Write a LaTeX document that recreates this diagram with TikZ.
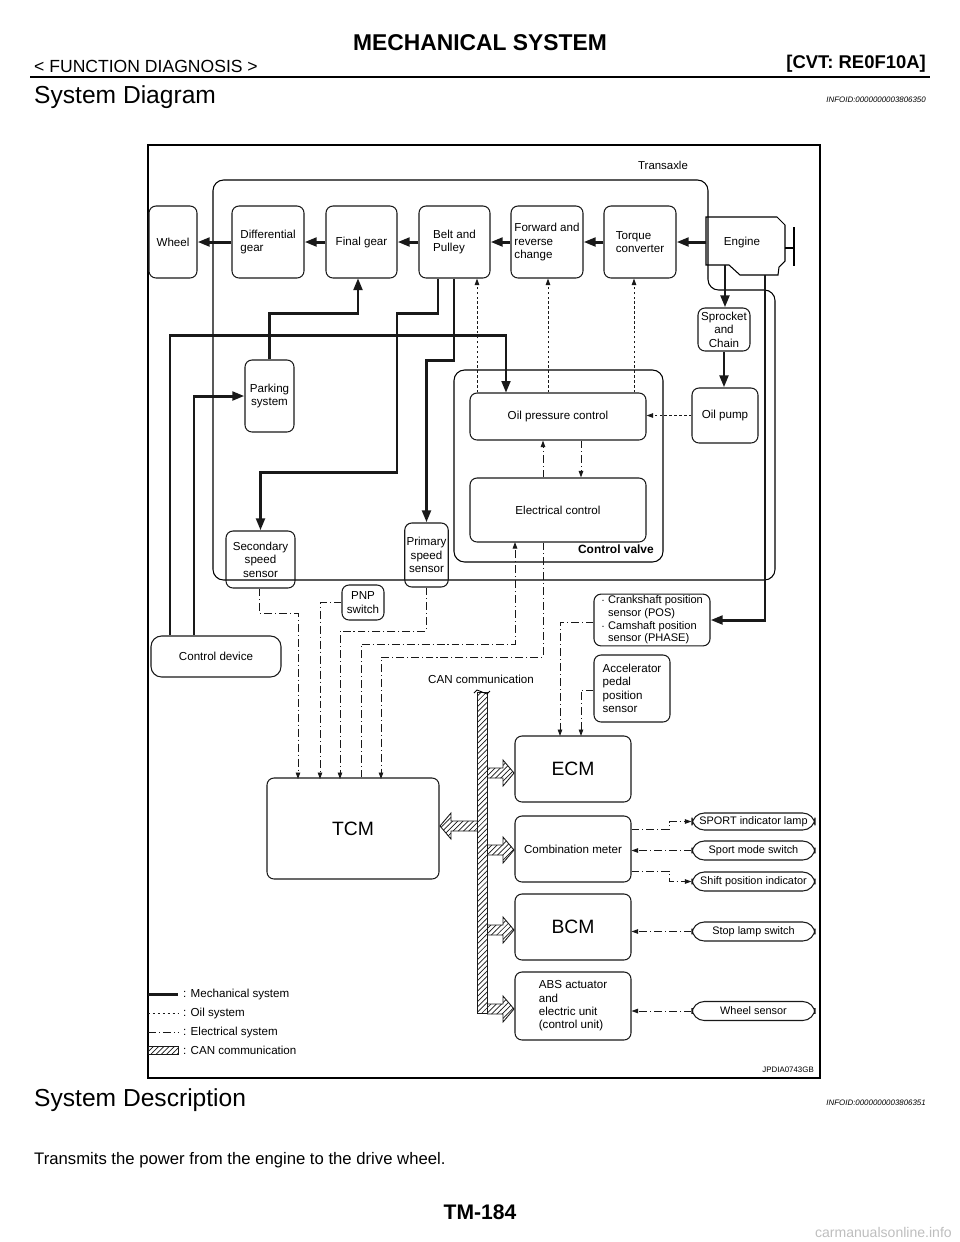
\documentclass[tikz,border=0pt]{standalone}
\usepackage{fontspec}
\setmainfont{Liberation Sans}
\usetikzlibrary{arrows.meta, patterns}
\definecolor{linedark}{RGB}{25, 25, 25}
\definecolor{markgray}{RGB}{190, 190, 190}

\begin{document}
\begin{tikzpicture}[
    x=0.02cm, y=-0.02cm,
    unit/.style 2 args={minimum width=#1*0.02cm, minimum height=#2*0.02cm},
    part/.style={rectangle, draw=linedark, rounded corners=4pt, line width=0.6pt, inner sep=1pt, font=\fontsize{6.6}{7.6}\selectfont, align=center},
    tag/.style={part, rounded corners=7pt, font=\fontsize{6.2}{7}\selectfont},
    mech/.style={line width=1.7pt, color=linedark},
    mecha/.style={mech, -{Triangle[length=2.4mm, width=1.7mm]}},
    oil/.style={line width=0.5pt, dash pattern=on 1.4pt off 1.4pt, color=linedark},
    oila/.style={oil, -{Triangle[length=1.3mm, width=0.9mm]}},
    elec/.style={line width=0.5pt, dash pattern=on 4.5pt off 1.7pt on 0.6pt off 1.7pt, color=linedark},
    eleca/.style={elec, -{Triangle[length=1.3mm, width=0.9mm]}},
    can/.style={draw=linedark, line width=0.5pt, pattern=north east lines, pattern color=linedark},
]
\useasboundingbox (0,0) rectangle (960,1242);

% Page header
\node[font=\bfseries\fontsize{13}{14}\selectfont] (title) at (480,43) {MECHANICAL SYSTEM};
\node[anchor=west, font=\fontsize{10}{12}\selectfont] (section) at (28,66) {< FUNCTION DIAGNOSIS >};
\node[anchor=east, font=\bfseries\fontsize{10.5}{12}\selectfont] (model) at (932,64) {[CVT: RE0F10A]};
\draw[line width=1.3pt] (30,77) -- (930,77);
\node[anchor=west, font=\fontsize{14}{16}\selectfont] (head1) at (28,97) {System Diagram};
\node[anchor=east, font=\itshape\fontsize{4.5}{5}\selectfont] (info1) at (932,100) {INFOID:0000000003806350};

% Frame and housings
\draw[line width=0.8pt] (148,145) rectangle (820,1078);
\node[anchor=south, font=\fontsize{6.5}{7}\selectfont] (transaxle) at (663,176) {Transaxle};
\draw[line width=0.6pt, rounded corners=6pt] (708,290) -- (708,180) -- (213,180) -- (213,580) -- (775,580) -- (775,290) -- cycle;
\draw[line width=0.6pt, rounded corners=6pt] (454,370) rectangle (663,562);
\node[anchor=south east, font=\bfseries\fontsize{6.8}{8}\selectfont] (cvlabel) at (660,560) {Control valve};

% Power train
\node[part, unit={48}{72}] (wheel) at (173,242) {Wheel};
\node[part, unit={72}{72}, align=left] (diff) at (268,242) {Differential\\gear};
\node[part, unit={71}{72}] (final) at (361.5,242) {Final gear};
\node[part, unit={71}{72}, align=left] (belt) at (454.5,242) {Belt and\\Pulley};
\node[part, unit={72}{72}, align=left] (fwd) at (547,242) {Forward and\\reverse\\change};
\node[part, unit={72}{72}, align=left] (torque) at (640,242) {Torque\\converter};

% Engine
\draw[line width=0.6pt] (706,217) -- (777,217) -- (785,225) -- (785,261) -- (779,267) -- (778,275) -- (740,275) -- (729,265) -- (706,265) -- cycle;
\draw[line width=0.6pt] (785,248) -- (794,248) (794,227) -- (794,266);
\node[font=\fontsize{6.6}{8}\selectfont] (engine) at (742,242) {Engine};
\coordinate (engW) at (706,242);
\coordinate (engS1) at (725,265);
\coordinate (engS2) at (765,275);

\node[part, unit={52}{43}] (sprocket) at (724,329.5) {Sprocket\\and\\Chain};
\node[part, unit={66}{55}] (oilpump) at (725,415.5) {Oil pump};
\node[part, unit={176}{47}] (oilp) at (558,416.5) {Oil pressure control};
\node[part, unit={176}{64}] (elecc) at (558,510) {Electrical control};
\node[part, unit={49}{72}] (parking) at (269.5,396) {Parking\\system};
\node[part, unit={69}{57}] (secondary) at (260.5,559.5) {Secondary\\speed\\sensor};
\node[part, unit={43}{64}] (primary) at (426.5,555) {Primary\\speed\\sensor};
\node[part, unit={42}{35}] (pnp) at (363,602.5) {PNP\\switch};
\node[part, rounded corners=6pt, unit={130}{41}] (control) at (216,656.5) {Control device};
\node[part, unit={116}{50}, align=left, font=\fontsize{6.3}{7.2}\selectfont] (crank) at (652,620) {$\cdot$ Crankshaft position\\\hspace*{4pt}sensor (POS)\\$\cdot$ Camshaft position\\\hspace*{4pt}sensor (PHASE)};
\node[part, unit={76}{67}, align=left] (accel) at (632,688.5) {Accelerator\\pedal\\position\\sensor};

% Control units
\node[part, unit={172}{101}, font=\fontsize{11}{12}\selectfont] (tcm) at (353,828.5) {TCM};
\node[part, unit={116}{66}, font=\fontsize{11}{12}\selectfont] (ecm) at (573,769) {ECM};
\node[part, unit={116}{66}] (comb) at (573,849) {Combination meter};
\node[part, unit={116}{66}, font=\fontsize{11}{12}\selectfont] (bcm) at (573,927) {BCM};
\node[part, unit={116}{68}, align=left] (abs) at (573,1006) {ABS actuator\\and\\electric unit\\(control unit)};
\node[tag, unit={123}{17}] (sport) at (753.5,821.5) {SPORT indicator lamp};
\node[tag, unit={123}{19}] (smode) at (753.5,850.5) {Sport mode switch};
\node[tag, unit={123}{19}] (shift) at (753.5,881.5) {Shift position indicator};
\node[tag, unit={123}{19}] (stop) at (753.5,931.5) {Stop lamp switch};
\node[tag, unit={123}{19}] (wsens) at (753.5,1011) {Wheel sensor};

% Mechanical system
\draw[mecha] (engW) -- (torque.east);
\draw[mecha] (torque) -- (fwd);
\draw[mecha] (fwd) -- (belt);
\draw[mecha] (belt) -- (final);
\draw[mecha] (final) -- (diff);
\draw[mecha] (diff) -- (wheel);
\draw[mecha] (engS1) -- (engS1 |- sprocket.north);
\draw[mecha] (sprocket) -- (sprocket |- oilpump.north);
\draw[mecha] (engS2) |- (crank.east);
\draw[mecha] (parking.north) -- (269.5,313) -| (358,278);
\draw[mecha] (belt.south) ++(-16.5,0) -- (438,313) -- (397,313) -- (397,472) -| (secondary.north);
\draw[mecha] (belt.south) ++(-0.5,0) -- (454,360) -| (primary.north);
\draw[mecha] (control.north) ++(-46,0) |- (506,335) -- (506,393);
\draw[mecha] (control.north) ++(-22,0) |- (parking.west);

% Oil system
\draw[oila] (oilp.north) ++(-81,0) coordinate (o1) -- (o1 |- belt.south);
\draw[oila] (oilp.north) ++(-10,0) coordinate (o2) -- (o2 |- fwd.south);
\draw[oila] (oilp.north) ++(76,0) coordinate (o3) -- (o3 |- torque.south);
\draw[oila] (oilpump.west) -- (oilpump.west -| oilp.east);

% Electrical system
\draw[eleca] (elecc.north) ++(-15,0) coordinate (e1) -- (e1 |- oilp.south);
\draw[eleca] (oilp.south) ++(23,0) coordinate (e2) -- (e2 |- elecc.north);
\draw[eleca] (tcm.north) ++(8,0) |- (515,644) -- (515,542);
\draw[eleca] (elecc.south) ++(-15,0) |- (381,657) -- (381,779);
\draw[eleca] (secondary.south) ++(-1.5,0) |- (298,613) -- (298,779);
\draw[eleca] (pnp.west) -| (320,779);
\draw[eleca] (primary.south) |- (340,631) -- (340,779);
\draw[eleca] (crank.west) ++(0,2) -| (560,736);
\draw[eleca] (accel.west) ++(0,1.5) -| (581,736);
\draw[eleca] (comb.east) ++(0,-20) -- (669,829) |- (sport.west);
\draw[eleca] (smode.west) -- (smode.west -| comb.east);
\draw[eleca] (comb.east) ++(0,22) -- (669,871) |- (shift.west);
\draw[eleca] (stop.west) -- (stop.west -| bcm.east);
\draw[eleca] (wsens.west) -- (wsens.west -| abs.east);

% CAN communication
\node[font=\fontsize{6.6}{8}\selectfont] (canlabel) at (481,679) {CAN communication};
\draw[can] (477,692) rectangle (487,1013);
\draw[line width=0.5pt] (474,693) -- (477,690) -- (487,694) -- (490,691);
\foreach \cy in {773,850,930,1009}
  \draw[can] (487,\cy-5) -- (503,\cy-5) -- (503,\cy-13) -- (514,\cy) -- (503,\cy+13) -- (503,\cy+5) -- (487,\cy+5);
\draw[can] (477,821) -- (451,821) -- (451,813) -- (440,826) -- (451,839) -- (451,831) -- (477,831);

% Legend
\draw[mech] (148,994) -- (178,994);
\draw[oil] (148,1013) -- (178,1013);
\draw[elec] (148,1032) -- (178,1032);
\draw[can] (148,1046) rectangle (178,1054);
\node[anchor=west, font=\fontsize{6.6}{8}\selectfont] (lg1) at (177,994) {: Mechanical system};
\node[anchor=west, font=\fontsize{6.6}{8}\selectfont] (lg2) at (177,1013) {: Oil system};
\node[anchor=west, font=\fontsize{6.6}{8}\selectfont] (lg3) at (177,1032) {: Electrical system};
\node[anchor=west, font=\fontsize{6.6}{8}\selectfont] (lg4) at (177,1050) {: CAN communication};
\node[anchor=east, font=\fontsize{4.5}{5}\selectfont] (figid) at (820,1070) {JPDIA0743GB};

% Description
\node[anchor=west, font=\fontsize{14}{16}\selectfont] (head2) at (28,1100) {System Description};
\node[anchor=east, font=\itshape\fontsize{4.5}{5}\selectfont] (info2) at (932,1103) {INFOID:0000000003806351};
\node[anchor=west, font=\fontsize{9.5}{11}\selectfont] (desc) at (28,1160) {Transmits the power from the engine to the drive wheel.};
\node[font=\bfseries\fontsize{12}{14}\selectfont] (pageno) at (480,1212) {TM-184};
\node[anchor=east, font=\fontsize{8}{9}\selectfont, text=markgray] (mark) at (958,1232) {carmanualsonline.info};
\end{tikzpicture}
\end{document}
